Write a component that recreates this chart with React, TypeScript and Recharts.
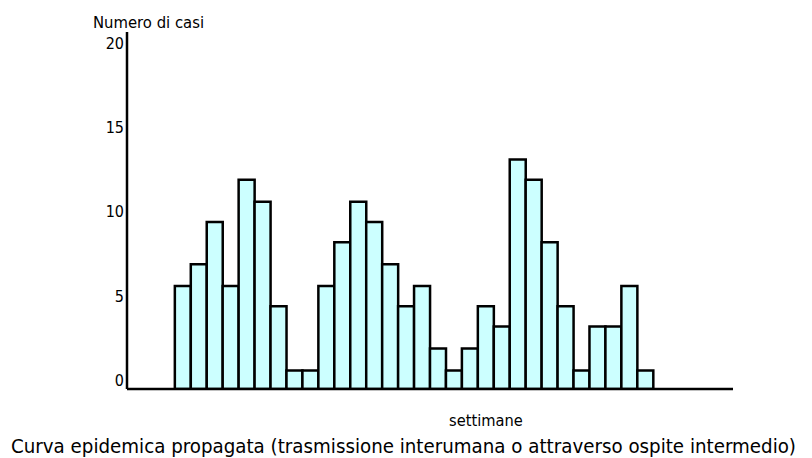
import { Bar, BarChart, XAxis, YAxis } from 'recharts';

// weeks shown on the x axis (no tick labels drawn, only the band positions)
const weeks = [
  1, 2, 3, 4, 5, 6, 7, 8, 9, 10, 11, 12, 13, 14, 15, 16, 17, 18, 19,
  20, 21, 22, 23, 24, 25, 26, 27, 28, 29, 30, 31, 32, 33, 34, 35, 36, 37, 38,
];

// cases per week, read against the printed 0–20 scale; null = no bar
const cases = [
  null, null, null,
  6.1, 7.4, 9.9, 6.1, 12.4, 11.1, 4.9, 1.1, 1.1, 6.1,
  8.7, 11.1, 9.9, 7.4, 4.9, 6.1, 2.4, 1.1, 2.4, 4.9,
  3.7, 13.6, 12.4, 8.7, 4.9, 1.1, 3.7, 3.7, 6.1, 1.1,
  null, null, null, null, null,
];

const yTicks = [0, 5, 10, 15, 20];

const FONT = '"DejaVu Sans Condensed", "DejaVu Sans", sans-serif';

const data = weeks.map((week, i) => ({ week, cases: cases[i] }));

/** Tick label sits a little above its tick, like the original slide. */
function YTick({ x, y, payload }: { x: number; y: number; payload: { value: number } }) {
  return (
    <text x={x} y={y - 8.5} dy="0.355em" textAnchor="end" fontFamily={FONT} fontSize={16} fill="#000">
      {payload.value}
    </text>
  );
}

export default function App() {
  return (
    <div style={{ position: 'absolute', left: 0, top: 0, width: 812, height: 458, background: '#fff' }}>
      <BarChart
        width={812}
        height={458}
        data={data}
        barCategoryGap={0}
        margin={{ top: 32, right: 79, left: 0, bottom: 68 }}
      >
        <XAxis
          dataKey="week"
          type="category"
          tick={false}
          tickLine={false}
          height={1}
          axisLine={{ stroke: '#000', strokeWidth: 2.5 }}
        />
        <YAxis
          type="number"
          domain={[0, 21.16]}
          ticks={yTicks}
          width={127}
          tickLine={false}
          tickSize={0}
          tickMargin={3}
          tick={YTick}
          axisLine={{ stroke: '#000', strokeWidth: 2.5 }}
          allowDataOverflow
        />
        <Bar dataKey="cases" fill="#ccffff" stroke="#000" strokeWidth={2.5} isAnimationActive={false} />
      </BarChart>
      <svg
        width={812}
        height={458}
        style={{ position: 'absolute', left: 0, top: 0, pointerEvents: 'none' }}
      >
        <text x={93} y={28} fontFamily={FONT} fontSize={16.5} fill="#000">
          Numero di casi
        </text>
        <text x={449} y={426} fontFamily={FONT} fontSize={16.3} fill="#000">
          settimane
        </text>
        <text x={11} y={453} fontFamily={FONT} fontSize={20.3} fill="#000">
          Curva epidemica propagata (trasmissione interumana o attraverso ospite intermedio)
        </text>
      </svg>
    </div>
  );
}
